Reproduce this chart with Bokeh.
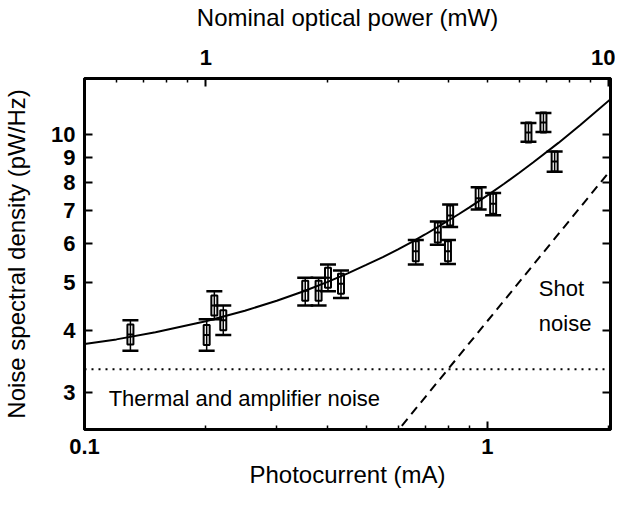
from bokeh.plotting import figure
from bokeh.models import (LogAxis, Range1d, FixedTicker, CustomJSTickFormatter,
                          Whisker, ColumnDataSource, Label)
from bokeh.embed import file_html
from bokeh.resources import INLINE

# ---- data ----
photocurrent = [0.130, 0.201, 0.210, 0.221, 0.353, 0.381, 0.402, 0.433, 0.664,
                0.753, 0.798, 0.808, 0.951, 1.033, 1.264, 1.377, 1.468]
noise = [3.93, 3.92, 4.50, 4.20, 4.82, 4.82, 5.12, 4.98, 5.80,
         6.33, 5.80, 6.85, 7.43, 7.24, 10.10, 10.58, 8.82]
noise_low = [3.64, 3.64, 4.22, 3.92, 4.50, 4.50, 4.81, 4.66, 5.45,
             5.98, 5.46, 6.49, 7.05, 6.86, 9.67, 10.12, 8.41]
noise_high = [4.20, 4.22, 4.81, 4.50, 5.12, 5.12, 5.45, 5.30, 6.11,
              6.66, 6.11, 7.21, 7.82, 7.61, 10.56, 11.06, 9.24]

fit_x = [0.10, 0.12, 0.15, 0.20, 0.25, 0.30, 0.35, 0.40, 0.45, 0.50, 0.55, 0.60,
         0.65, 0.70, 0.75, 0.85, 0.90, 1.00, 1.10, 1.20, 1.30, 1.50, 1.70, 2.02]
fit_y = [3.76, 3.84, 3.97, 4.18, 4.39, 4.60, 4.81, 5.02, 5.23, 5.44, 5.64, 5.85,
         6.06, 6.27, 6.48, 6.90, 7.11, 7.53, 7.95, 8.37, 8.79, 9.62, 10.46, 11.80]

thermal_x = [0.10, 2.02]
thermal_y = [3.34, 3.34]

shot_x = [0.55, 2.10]
shot_y = [2.30, 8.80]

x_ticks = [0.1, 1]
x_minor = [0.2, 0.3, 0.4, 0.5, 0.6, 0.7, 0.8, 0.9, 2]
top_ticks = [1, 10]
top_minor = [0.5, 0.6, 0.7, 0.8, 0.9, 2, 3, 4, 5, 6, 7, 8, 9]
y_ticks = [3, 4, 5, 6, 7, 8, 9, 10]

FONT = "Liberation Sans"

p = figure(width=615, height=490, x_axis_type="log", y_axis_type="log",
           x_range=Range1d(0.1, 2.02), y_range=Range1d(2.52, 13.0),
           output_backend="svg", toolbar_location=None,
           min_border_left=0, min_border_right=5, min_border_top=0, min_border_bottom=0)
p.extra_x_ranges = {"power": Range1d(0.5, 10.1)}
p.xgrid.visible = False
p.ygrid.visible = False
p.outline_line_color = "black"
p.outline_line_width = 3

fmt = CustomJSTickFormatter(code="return String(tick);")
blank = CustomJSTickFormatter(code="return '';")

def style(ax, ticks, minor, label=None, show=True):
    ax.ticker = FixedTicker(ticks=ticks, minor_ticks=minor)
    ax.formatter = fmt if show else blank
    ax.axis_line_width = 3
    ax.axis_line_color = "black"
    ax.major_tick_in = 8
    ax.major_tick_out = 0
    ax.minor_tick_in = 4
    ax.minor_tick_out = 0
    ax.major_tick_line_width = 2
    ax.minor_tick_line_width = 1.5
    ax.major_label_text_font = FONT
    ax.major_label_text_font_style = "bold"
    ax.major_label_text_font_size = "22px" if show else "0px"
    ax.major_label_text_color = "black"
    if label:
        ax.axis_label = label
        ax.axis_label_text_font = FONT
        ax.axis_label_text_font_style = "normal"
        ax.axis_label_text_font_size = "24px"
        ax.axis_label_text_color = "black"

style(p.xaxis[0], x_ticks, x_minor, "Photocurrent (mA)")
p.xaxis[0].major_label_standoff = 9
p.xaxis[0].axis_label_standoff = 4

style(p.yaxis[0], y_ticks, [], "Noise spectral density (pW/Hz)")
p.yaxis[0].major_label_standoff = 9
p.yaxis[0].axis_label_standoff = 18

top = LogAxis(x_range_name="power")
style(top, top_ticks, top_minor, "Nominal optical power (mW)")
top.major_label_standoff = 14
top.axis_label_standoff = 16
p.add_layout(top, "above")

right = LogAxis()
style(right, y_ticks, [], show=False)
right.major_label_standoff = 0
p.add_layout(right, "right")

# curves
p.line(fit_x, fit_y, line_color="black", line_width=2)
p.line(thermal_x, thermal_y, line_color="black", line_width=2, line_dash="2 5")
p.line(shot_x, shot_y, line_color="black", line_width=2, line_dash="9 6")

# data with error bars
src = ColumnDataSource(dict(x=photocurrent, y=noise, lo=noise_low, hi=noise_high))
wh = Whisker(base="x", lower="lo", upper="hi", source=src, dimension="height",
             line_color="black", line_width=1.5)
wh.upper_head.size = 16
wh.lower_head.size = 16
wh.upper_head.line_width = 2.5
wh.lower_head.line_width = 2.5
p.add_layout(wh)
p.rect("x", "y", width=6, height=20, width_units="screen", height_units="screen",
       source=src, fill_color=None, line_color="black", line_width=2)
p.scatter("x", "y", marker="dash", size=6, source=src, line_color="black", line_width=2)

# annotations
for txt, x, y in [("Thermal and amplifier noise", 0.1148, 2.917),
                  ("Shot", 1.341, 4.87), ("noise", 1.341, 4.13)]:
    p.add_layout(Label(x=x, y=y, text=txt, text_font=FONT, text_font_size="22px",
                       text_color="black", text_baseline="alphabetic"))

open("out.html", "w").write(file_html(p, INLINE))
